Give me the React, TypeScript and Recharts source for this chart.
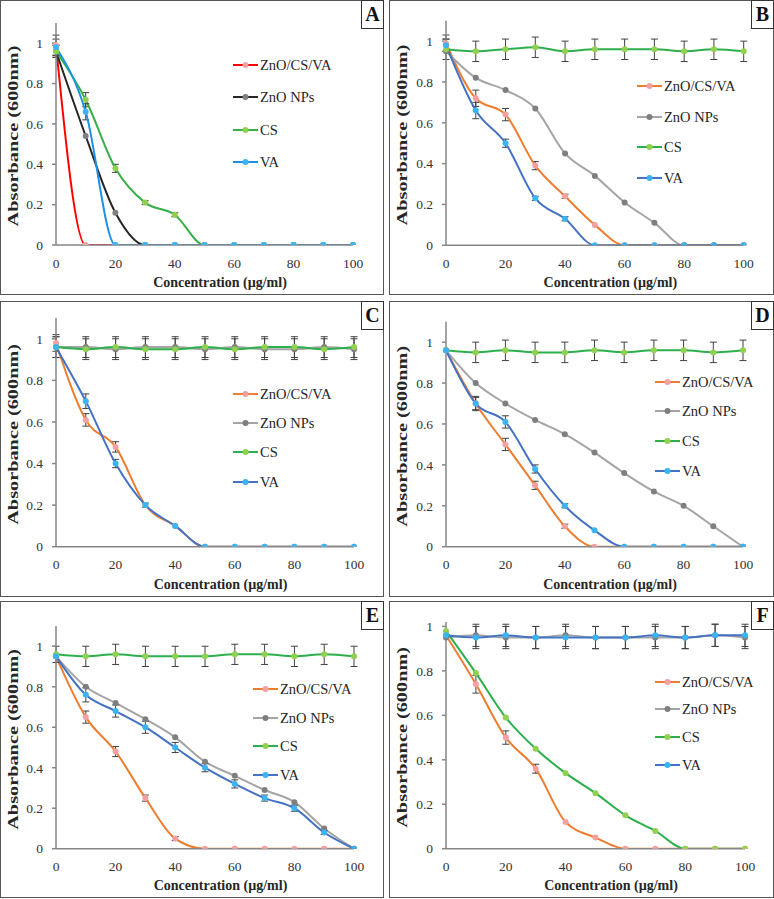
import React from 'react';
import { LineChart, Line, XAxis, YAxis, ErrorBar, Legend, Label } from 'recharts';

const FONT = 'Liberation Serif, "DejaVu Serif", serif';

const conc = [0, 10, 20, 30, 40, 50, 60, 70, 80, 90, 100];
const xTicks = [0, 20, 40, 60, 80, 100];
const yTicks = [0, 0.2, 0.4, 0.6, 0.8, 1];
const seriesNames = ['ZnO/CS/VA', 'ZnO NPs', 'CS', 'VA'];

// Panel A
const aComposite = [0.99, 0, 0, 0, 0, 0, 0, 0, 0, 0, 0];
const aCompositeErr = [0.05, 0, 0, 0, 0, 0, 0, 0, 0, 0, 0];
const aZnO = [0.96, 0.54, 0.16, 0, 0, 0, 0, 0, 0, 0, 0];
const aZnOErr = [0.03, 0, 0, 0, 0, 0, 0, 0, 0, 0, 0];
const aCS = [0.96, 0.72, 0.38, 0.21, 0.15, 0, 0, 0, 0, 0, 0];
const aCSErr = [0.03, 0.035, 0.02, 0.01, 0.01, 0, 0, 0, 0, 0, 0];
const aVA = [0.98, 0.66, 0, 0, 0, 0, 0, 0, 0, 0, 0];
const aVAErr = [0.04, 0.04, 0, 0, 0, 0, 0, 0, 0, 0, 0];

// Panel B
const bComposite = [0.99, 0.72, 0.64, 0.39, 0.24, 0.1, 0, 0, 0, 0, 0];
const bCompositeErr = [0.04, 0.04, 0.03, 0.02, 0.01, 0, 0, 0, 0, 0, 0];
const bZnO = [0.95, 0.82, 0.76, 0.67, 0.45, 0.34, 0.21, 0.11, 0, 0, 0];
const bZnOErr = [0, 0, 0, 0, 0, 0, 0, 0, 0, 0, 0];
const bCS = [0.96, 0.95, 0.96, 0.97, 0.95, 0.96, 0.96, 0.96, 0.95, 0.96, 0.95];
const bCSErr = [0.05, 0.05, 0.05, 0.05, 0.05, 0.05, 0.05, 0.05, 0.05, 0.05, 0.05];
const bVA = [0.98, 0.66, 0.5, 0.23, 0.13, 0, 0, 0, 0, 0, 0];
const bVAErr = [0.03, 0.04, 0.02, 0.01, 0.01, 0, 0, 0, 0, 0, 0];

// Panel C
const cComposite = [0.98, 0.61, 0.48, 0.2, 0.1, 0, 0, 0, 0, 0, 0];
const cCompositeErr = [0.04, 0.03, 0.025, 0.01, 0, 0, 0, 0, 0, 0, 0];
const cZnO = [0.96, 0.96, 0.95, 0.96, 0.96, 0.95, 0.96, 0.95, 0.95, 0.96, 0.95];
const cZnOErr = [0.05, 0.05, 0.05, 0.05, 0.05, 0.05, 0.05, 0.05, 0.05, 0.05, 0.05];
const cCS = [0.96, 0.95, 0.96, 0.95, 0.95, 0.96, 0.95, 0.96, 0.96, 0.95, 0.96];
const cCSErr = [0.05, 0.05, 0.05, 0.05, 0.05, 0.05, 0.05, 0.05, 0.05, 0.05, 0.05];
const cVA = [0.96, 0.7, 0.4, 0.2, 0.1, 0, 0, 0, 0, 0, 0];
const cVAErr = [0, 0.035, 0.02, 0, 0, 0, 0, 0, 0, 0, 0];

// Panel D
const dComposite = [0.96, 0.7, 0.5, 0.3, 0.1, 0, 0, 0, 0, 0, 0];
const dCompositeErr = [0, 0.03, 0.03, 0.02, 0.01, 0, 0, 0, 0, 0, 0];
const dZnO = [0.96, 0.8, 0.7, 0.62, 0.55, 0.46, 0.36, 0.27, 0.2, 0.1, 0];
const dZnOErr = [0, 0, 0, 0, 0, 0, 0, 0, 0, 0, 0];
const dCS = [0.96, 0.95, 0.96, 0.95, 0.95, 0.96, 0.95, 0.96, 0.96, 0.95, 0.96];
const dCSErr = [0, 0.05, 0.05, 0.05, 0.05, 0.05, 0.05, 0.05, 0.05, 0.05, 0.05];
const dVA = [0.96, 0.7, 0.61, 0.38, 0.2, 0.08, 0, 0, 0, 0, 0];
const dVAErr = [0, 0.035, 0.03, 0.02, 0.01, 0, 0, 0, 0, 0, 0];

// Panel E
const eComposite = [0.95, 0.65, 0.48, 0.25, 0.05, 0, 0, 0, 0, 0, 0];
const eCompositeErr = [0, 0.03, 0.025, 0.015, 0.01, 0, 0, 0, 0, 0, 0];
const eZnO = [0.95, 0.8, 0.72, 0.64, 0.55, 0.43, 0.36, 0.29, 0.23, 0.1, 0];
const eZnOErr = [0, 0, 0, 0, 0, 0, 0, 0, 0, 0, 0];
const eCS = [0.96, 0.95, 0.96, 0.95, 0.95, 0.95, 0.96, 0.96, 0.95, 0.96, 0.95];
const eCSErr = [0.04, 0.05, 0.05, 0.05, 0.05, 0.05, 0.05, 0.05, 0.05, 0.05, 0.05];
const eVA = [0.95, 0.76, 0.68, 0.6, 0.5, 0.4, 0.32, 0.25, 0.2, 0.08, 0];
const eVAErr = [0, 0.035, 0.03, 0.03, 0.025, 0.02, 0.02, 0.015, 0.015, 0.01, 0];

// Panel F
const fComposite = [0.96, 0.74, 0.5, 0.36, 0.12, 0.05, 0, 0, 0, 0, 0];
const fCompositeErr = [0, 0.04, 0.03, 0.02, 0, 0, 0, 0, 0, 0, 0];
const fZnO = [0.95, 0.96, 0.95, 0.95, 0.96, 0.95, 0.95, 0.95, 0.95, 0.96, 0.95];
const fZnOErr = [0, 0.05, 0.05, 0.05, 0.05, 0.05, 0.05, 0.05, 0.05, 0.05, 0.05];
const fCS = [0.98, 0.79, 0.59, 0.45, 0.34, 0.25, 0.15, 0.08, 0, 0, 0];
const fCSErr = [0, 0, 0, 0, 0, 0, 0, 0, 0, 0, 0];
const fVA = [0.96, 0.95, 0.96, 0.95, 0.95, 0.95, 0.95, 0.96, 0.95, 0.96, 0.96];
const fVAErr = [0, 0.05, 0.05, 0.05, 0.05, 0.05, 0.05, 0.05, 0.05, 0.05, 0.05];

const linesA = ['#FF0000', '#262626', '#3AAE48', '#1E90E6'];
const markersA = ['#F5A3A3', '#808080', '#8FD14F', '#3DB5F5'];
const linesStd = ['#ED7D31', '#A5A5A5', '#2DAF4B', '#4472C4'];
const markersStd = ['#F4A0A0', '#7F7F7F', '#92D050', '#3AB4F2'];

type Panel = {
  letter: string;
  x: number; y: number; w: number; h: number;
  l: number; r: number; t: number; b: number;
  yMax: number;
  legX: number; legY: number; legGap: number;
  lineColors: string[]; markerColors: string[];
  values: number[][]; errors: number[][];
};

const panels: Panel[] = [
  { letter: 'A', x: 0, y: 0, w: 384, h: 295, l: 56, r: 353, t: 23, b: 245, yMax: 1.1,
    legX: 233, legY: 65, legGap: 32.3, lineColors: linesA, markerColors: markersA,
    values: [aComposite, aZnO, aCS, aVA], errors: [aCompositeErr, aZnOErr, aCSErr, aVAErr] },
  { letter: 'B', x: 389, y: 0, w: 385, h: 295, l: 57, r: 354.7, t: 20.7, b: 245.3, yMax: 1.1,
    legX: 248, legY: 86, legGap: 30.7, lineColors: linesStd, markerColors: markersStd,
    values: [bComposite, bZnO, bCS, bVA], errors: [bCompositeErr, bZnOErr, bCSErr, bVAErr] },
  { letter: 'C', x: 0, y: 301, w: 384, h: 296, l: 56, r: 354, t: 17, b: 245.7, yMax: 1.1,
    legX: 233, legY: 93.3, legGap: 29.1, lineColors: linesStd, markerColors: markersStd,
    values: [cComposite, cZnO, cCS, cVA], errors: [cCompositeErr, cZnOErr, cCSErr, cVAErr] },
  { letter: 'D', x: 389, y: 301, w: 385, h: 296, l: 57, r: 354, t: 20.7, b: 245.7, yMax: 1.1,
    legX: 266, legY: 80.7, legGap: 29.7, lineColors: linesStd, markerColors: markersStd,
    values: [dComposite, dZnO, dCS, dVA], errors: [dCompositeErr, dZnOErr, dCSErr, dVAErr] },
  { letter: 'E', x: 0, y: 601, w: 384, h: 297, l: 56, r: 354, t: 25, b: 247.7, yMax: 1.1,
    legX: 253, legY: 88.3, legGap: 28.6, lineColors: linesStd, markerColors: markersStd,
    values: [eComposite, eZnO, eCS, eVA], errors: [eCompositeErr, eZnOErr, eCSErr, eVAErr] },
  { letter: 'F', x: 389, y: 601, w: 385, h: 297, l: 57, r: 356, t: 21, b: 247.7, yMax: 1.02,
    legX: 266, legY: 80.7, legGap: 27.8, lineColors: linesStd, markerColors: markersStd,
    values: [fComposite, fZnO, fCS, fVA], errors: [fCompositeErr, fZnOErr, fCSErr, fVAErr] },
];

const buildRows = (p: Panel) =>
  conc.map((c, i) => {
    const row: Record<string, number> = { conc: c };
    p.values.forEach((v, s) => {
      row['s' + s] = v[i];
      row['e' + s] = p.errors[s][i];
    });
    return row;
  });

const makeLegend = (p: Panel) => (props: any) => {
  const payload: any[] = (props && props.payload) || [];
  const items = seriesNames.map((name, i) => {
    const found = payload.find((e) => e.value === name);
    return { name, color: found ? found.color : p.lineColors[i], marker: p.markerColors[i] };
  });
  return (
    <div style={{ position: 'relative', width: 120, height: 4 * p.legGap }}>
      {items.map((it, i) => (
        <div key={it.name} style={{ position: 'absolute', left: 0, top: i * p.legGap - 10, height: 20, display: 'flex', alignItems: 'center', whiteSpace: 'nowrap' }}>
          <svg width={25} height={10} style={{ display: 'block' }}>
            <line x1={0} y1={5} x2={25} y2={5} stroke={it.color} strokeWidth={2} />
            <circle cx={12.5} cy={5} r={3} fill={it.marker} />
          </svg>
          <span style={{ marginLeft: 2, fontFamily: FONT, fontSize: 14.5, color: '#262626', lineHeight: '20px' }}>{it.name}</span>
        </div>
      ))}
    </div>
  );
};

const makeYTitle = (p: Panel) => (props: any) => {
  const vb = (props && props.viewBox) || {};
  const cy = (vb.y ?? p.t) + (vb.height ?? p.b - p.t) / 2 + 2;
  const cx = 13.5;
  return (
    <text
      transform={`translate(${cx},${cy}) rotate(-90) scale(1.45,1)`}
      textAnchor="middle" dominantBaseline="central"
      style={{ fontFamily: FONT, fontSize: 14, fontWeight: 'bold', fill: '#262626' }}
    >
      Absorbance (600nm)
    </text>
  );
};

const PanelChart = ({ p }: { p: Panel }) => {
  const rows = buildRows(p);
  return (
    <div style={{ position: 'absolute', left: p.x, top: p.y, width: p.w, height: p.h }}>
      <div style={{ position: 'absolute', left: 0, top: 0 }}>
        <LineChart width={p.w} height={p.h} data={rows} margin={{ top: p.t, right: p.w - p.r, left: 0, bottom: 0 }}>
          <XAxis
            dataKey="conc" type="number" domain={[0, 100]} ticks={xTicks} interval={0}
            height={p.h - p.b} tickLine={false} tickSize={6} tickMargin={7}
            axisLine={{ stroke: '#868686', strokeWidth: 1.5 }}
            tick={{ fill: '#333333', fontSize: 13.5, fontFamily: FONT }}
          >
            <Label value="Concentration  (µg/ml)" position="insideBottom" offset={8} dx={15.5}
              style={{ fontFamily: FONT, fontSize: 14, fontWeight: 'bold', fill: '#262626' }} />
          </XAxis>
          <YAxis
            type="number" domain={[0, p.yMax]} ticks={yTicks} interval={0} width={p.l}
            tickSize={4} tickMargin={9} allowDataOverflow
            tickLine={{ stroke: '#868686', strokeWidth: 1.5 }}
            axisLine={{ stroke: '#868686', strokeWidth: 1.5 }}
            tick={{ fill: '#333333', fontSize: 13.5, fontFamily: FONT }}
            tickFormatter={(v: number) => String(Math.round(v * 10) / 10)}
          >
            <Label content={makeYTitle(p)} />
          </YAxis>
          <Legend
            layout="vertical" align="center" verticalAlign="middle"
            wrapperStyle={{ left: p.legX, top: p.legY, width: 130, height: 4 * p.legGap }}
            content={makeLegend(p)}
          />
          {seriesNames.map((name, s) => (
            <Line
              key={name} name={name} dataKey={'s' + s} type="monotone"
              stroke={p.lineColors[s]} strokeWidth={2}
              dot={{ r: 3, fill: p.markerColors[s], stroke: p.markerColors[s], strokeWidth: 0 }}
              activeDot={false} isAnimationActive={false}
            >
              <ErrorBar dataKey={'e' + s} width={3.5} strokeWidth={1} stroke="#404040" direction="y" />
            </Line>
          ))}
        </LineChart>
      </div>
      <div style={{ position: 'absolute', left: 0, top: 0, width: p.w, height: p.h, boxSizing: 'border-box', border: '1.5px solid #555555', pointerEvents: 'none' }} />
      <div style={{ position: 'absolute', right: 0, top: 0, width: 23, height: 29, boxSizing: 'border-box', border: '1.5px solid #333333', background: '#ffffff', display: 'flex', alignItems: 'center', justifyContent: 'center', fontFamily: FONT, fontWeight: 'bold', fontSize: 20, color: '#111111' }}>
        {p.letter}
      </div>
    </div>
  );
};

export default function App() {
  return (
    <div style={{ position: 'absolute', left: 0, top: 0, width: 774, height: 899, background: '#ffffff', overflow: 'hidden' }}>
      {panels.map((p) => (
        <PanelChart key={p.letter} p={p} />
      ))}
    </div>
  );
}
